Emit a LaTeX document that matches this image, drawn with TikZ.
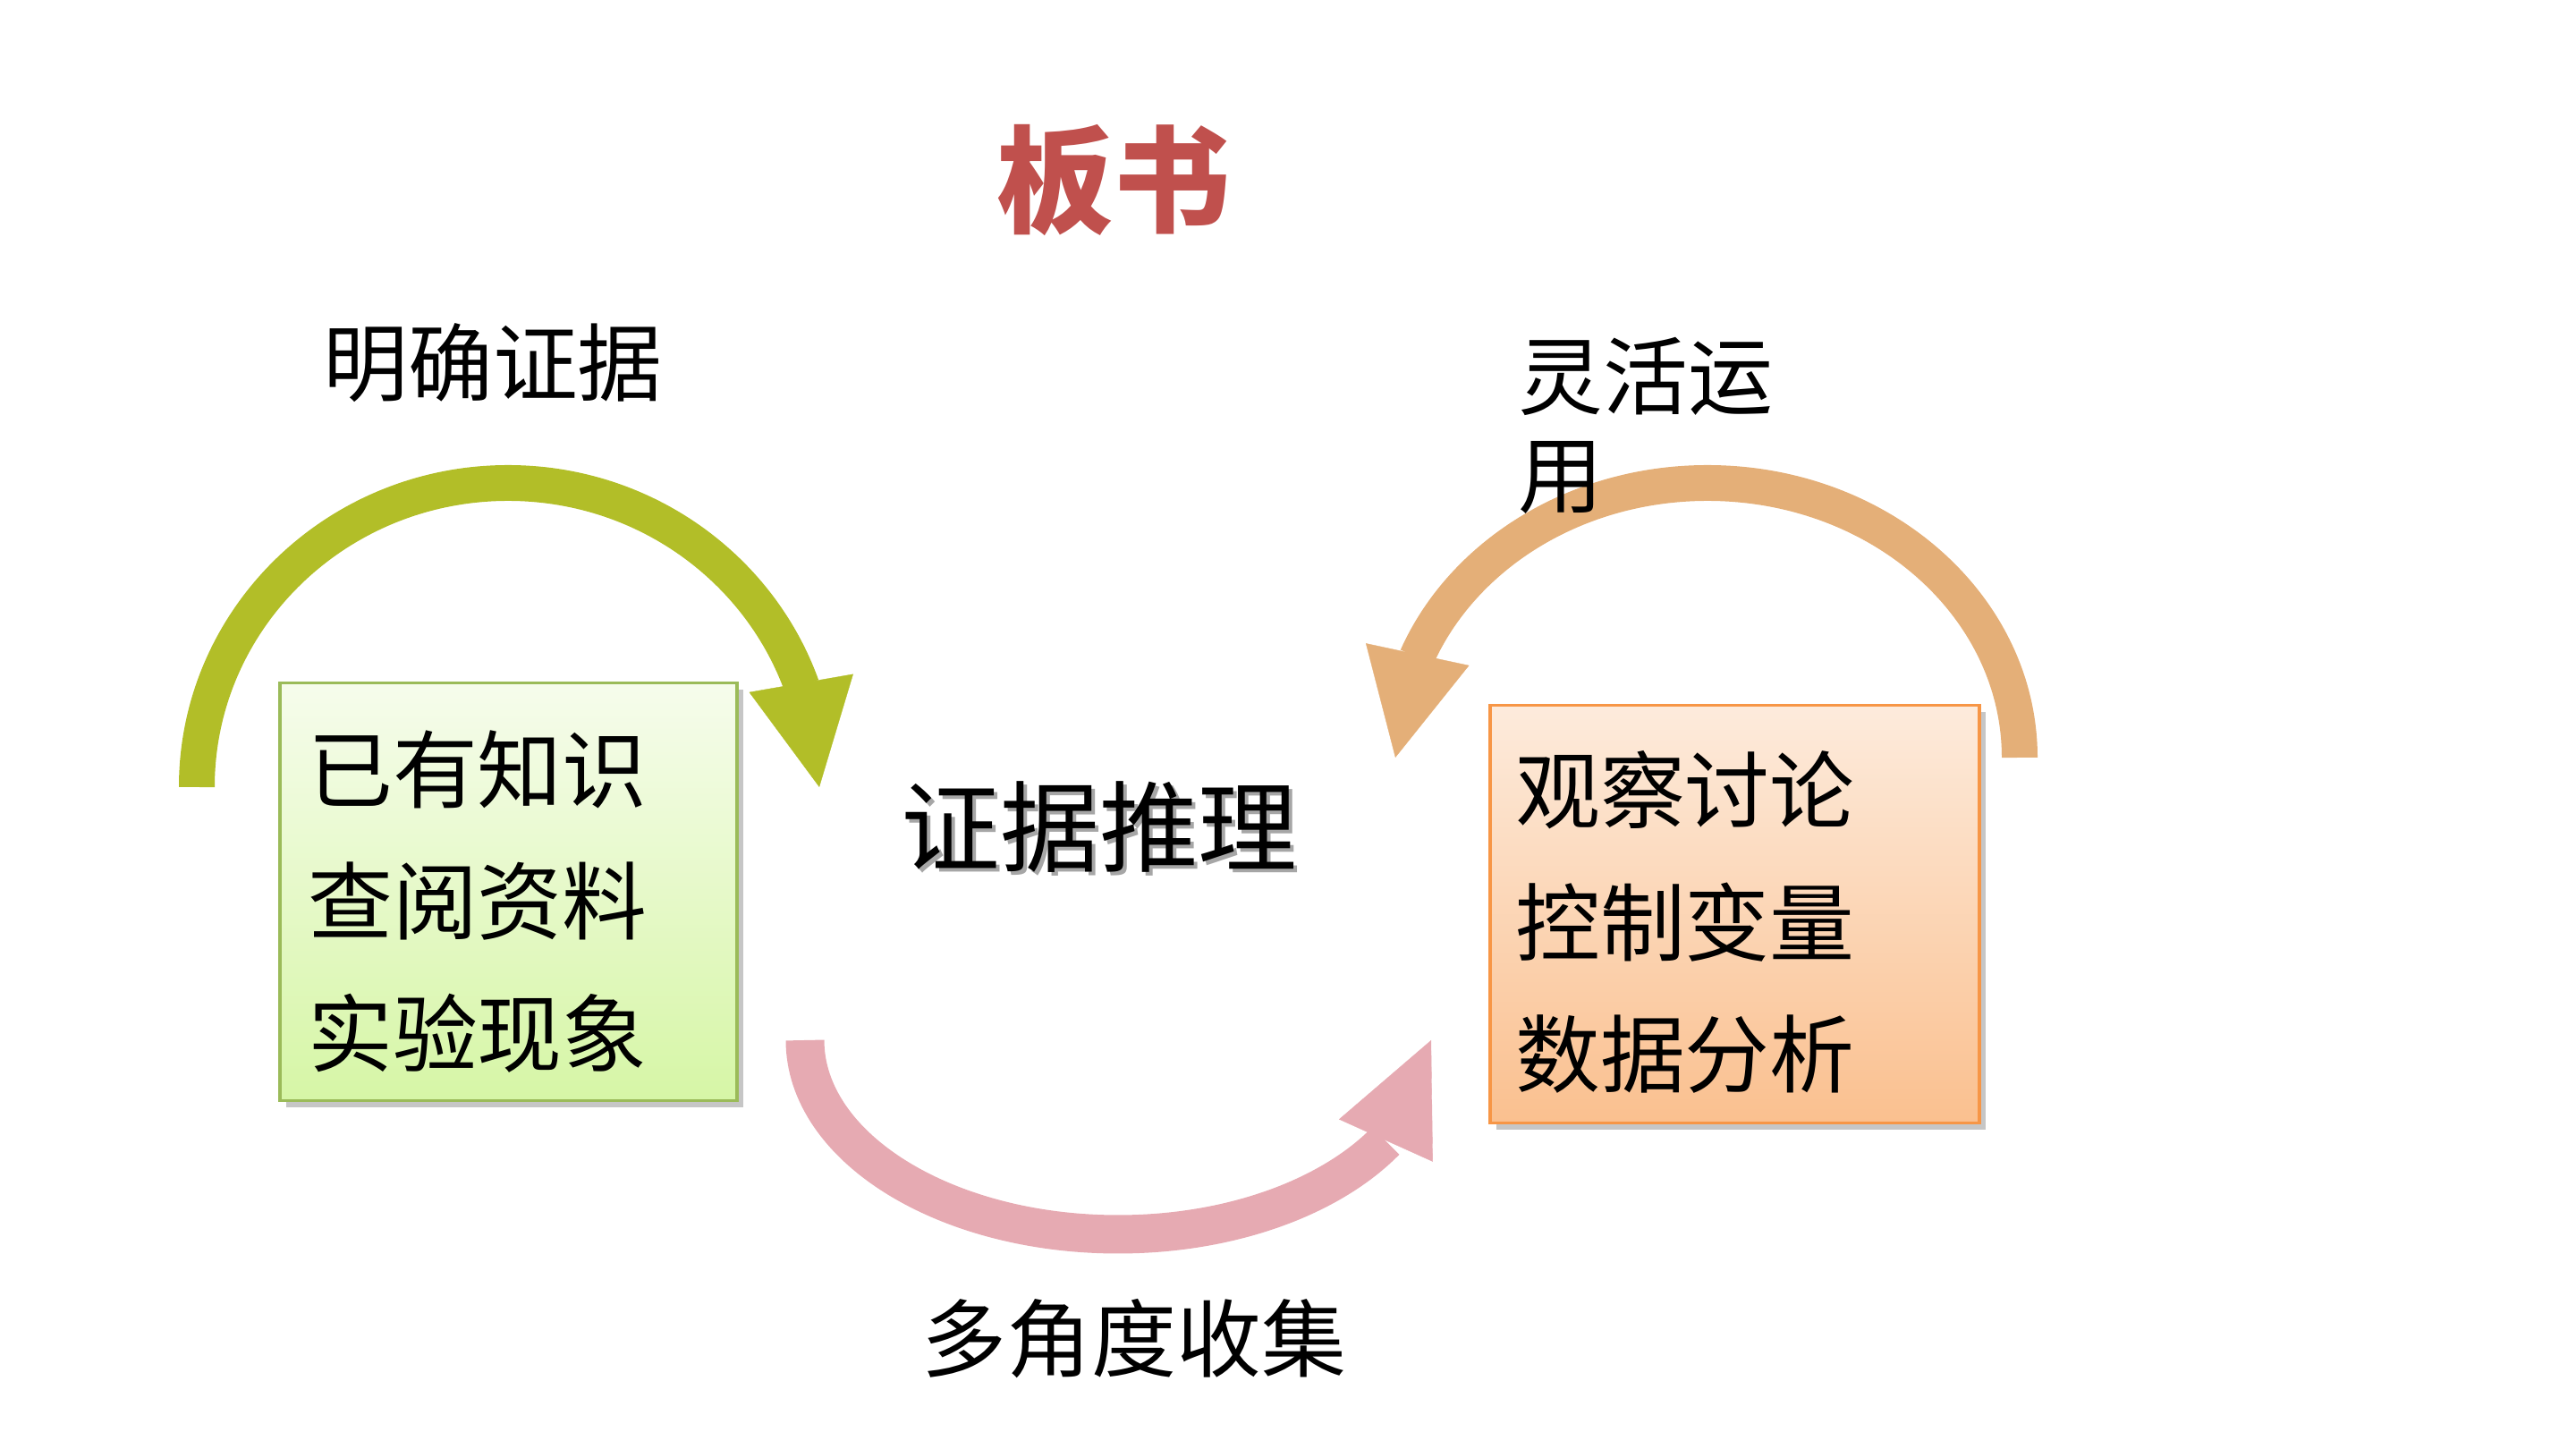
\documentclass[tikz,border=0pt]{standalone}
\usepackage{fontspec}
\newfontfamily\cjk{Noto Sans CJK SC}
\usetikzlibrary{arrows.meta,bending,shadows}
\definecolor{titlered}{RGB}{192,80,77}
\definecolor{olivearrow}{RGB}{178,190,40}
\definecolor{peacharrow}{RGB}{228,175,120}
\definecolor{pinkarrow}{RGB}{230,170,178}
\definecolor{greenline}{RGB}{155,187,89}
\definecolor{greentop}{RGB}{246,252,236}
\definecolor{greenbot}{RGB}{214,246,166}
\definecolor{orangeline}{RGB}{247,150,70}
\definecolor{orangetop}{RGB}{253,235,220}
\definecolor{orangebot}{RGB}{250,192,143}
\begin{document}
\begin{tikzpicture}[x=1cm,y=1cm,
  every node/.style={font=\cjk\fontsize{27}{42}\selectfont,inner sep=0pt,align=left},
  card/.style={minimum width=#1,minimum height=4.67cm,line width=0.9pt,
    drop shadow={shadow xshift=0.7mm,shadow yshift=-0.8mm,opacity=0.45}},
  curvearrow/.style={line width=4mm,-{Triangle[width=11.8mm,length=11.8mm,line width=0.1pt,flex]}}]
\useasboundingbox (0,0) rectangle (28.8,16.2);
\coordinate (greenc) at (5.68,7.40);
\coordinate (peachc) at (19.09,7.73);
\coordinate (pinkc) at (12.50,4.57);
\draw[curvearrow,olivearrow] ([xshift=-3.48cm]greenc) arc[start angle=180,end angle=0,x radius=3.48,y radius=3.40];
\draw[curvearrow,peacharrow] ([xshift=3.49cm]peachc) arc[start angle=0,end angle=180,x radius=3.49,y radius=3.07];
\draw[curvearrow,pinkarrow,line width=4.3mm,-{Triangle[width=11.5mm,length=12.3mm,line width=0.1pt,flex]}] ([xshift=-3.50cm]pinkc) arc[start angle=180,end angle=360,x radius=3.50,y radius=2.17];
\node[card=5.11cm,draw=greenline,top color=greentop,bottom color=greenbot] (known) at (5.685,6.23) {};
\node[card=5.47cm,draw=orangeline,top color=orangetop,bottom color=orangebot] (explore) at (19.395,5.98) {};
\node[anchor=west] (knowntext) at ([xshift=3.2mm,yshift=-1.1mm]known.west) {已有知识\\查阅资料\\实验现象};
\node[anchor=west] (exploretext) at ([xshift=2.9mm,yshift=-0.9mm]explore.west) {观察讨论\\控制变量\\数据分析};
\node[font=\cjk\bfseries\fontsize{37}{37}\selectfont,text=titlered] (title) at (12.45,14.18) {板书};
\node (clarify) at (5.51,12.14) {明确证据};
\node[anchor=west,font=\cjk\fontsize{27}{31.5}\selectfont] (apply) at (16.97,11.44) {灵活运\\用};
\node[font=\cjk\fontsize{31.5}{31.5}\selectfont,text=black!35] (reasonshadow) at (12.33,6.91) {证据推理};
\node[font=\cjk\fontsize{31.5}{31.5}\selectfont] (reason) at (12.29,6.95) {证据推理};
\node (collect) at (12.68,1.23) {多角度收集};
\end{tikzpicture}
\end{document}
